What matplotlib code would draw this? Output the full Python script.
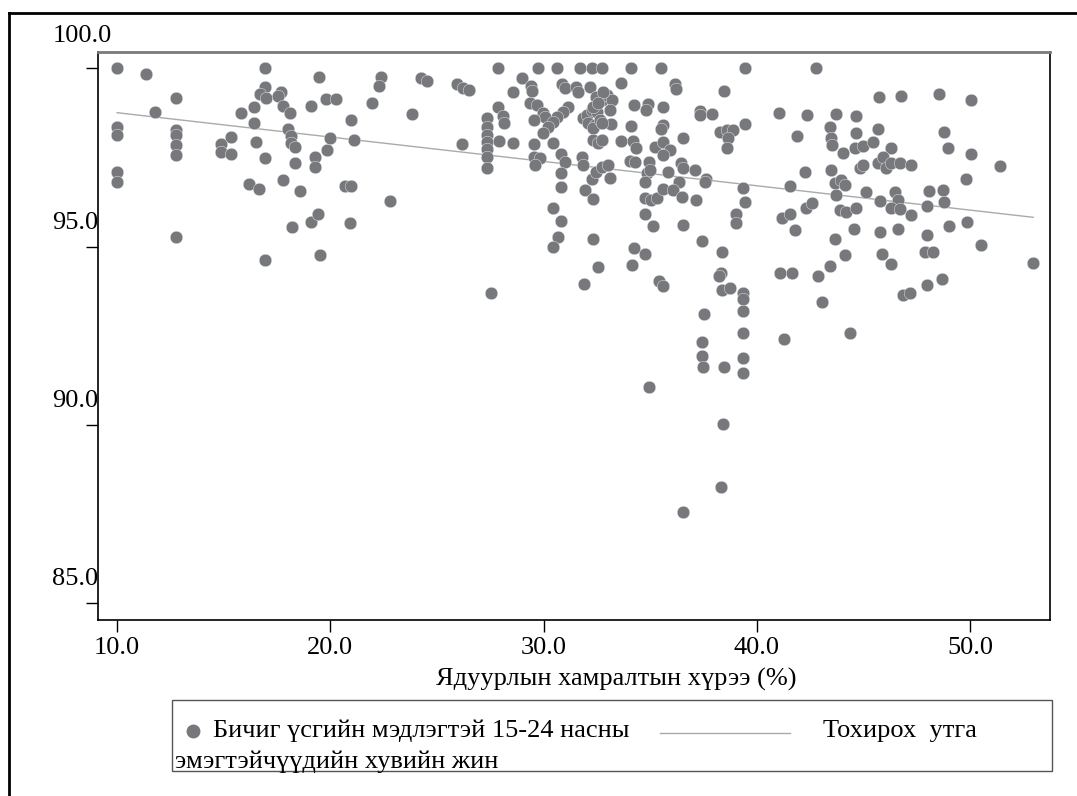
import numpy as np
import matplotlib
matplotlib.use('Agg')
import matplotlib.pyplot as plt
from matplotlib.transforms import ScaledTranslation
from matplotlib.lines import Line2D
from matplotlib.patches import Rectangle

plt.rcParams['font.family'] = ['Liberation Serif', 'DejaVu Serif']

# ядуурлын хамралтын хүрээ (x) ба бичиг үсгийн мэдлэгтэй эмэгтэйчүүдийн хувь (y)
poverty = [
    10.00, 11.37, 16.95, 19.45, 22.39, 22.28, 12.78, 16.95, 16.69, 16.97,
    17.67, 17.55, 17.78, 18.09, 16.42, 15.83, 16.42, 19.11, 19.81, 20.28,
    21.95, 20.98, 11.80, 10.00, 10.00, 10.00, 10.00, 12.78, 12.78, 12.78,
    12.78, 12.78, 14.86, 14.86, 15.33, 15.33, 16.53, 16.95, 16.20, 16.67,
    16.92, 17.78, 18.57, 18.22, 18.02, 18.14, 18.14, 18.33, 18.36, 19.30,
    19.30, 19.86, 19.97, 21.11, 20.67, 20.98, 19.11, 19.42, 20.94, 19.53,
    22.81,
    24.24, 24.52, 25.93, 26.24, 26.50, 23.84, 26.16, 27.36, 27.36, 27.36,
    27.36, 27.36, 27.36, 27.36, 27.53,
    27.87, 29.75, 30.61, 31.70, 32.25, 32.76, 29.01, 28.58, 29.41, 29.44,
    27.87, 28.11, 28.16, 27.92, 28.58, 29.36, 29.67, 29.98, 30.06, 29.55,
    30.87, 31.00, 31.50, 31.62, 32.20, 31.15, 30.92, 30.61, 30.45, 30.22,
    29.98, 30.42, 29.56, 29.56, 29.83, 29.60, 30.84, 31.00, 30.84, 30.84,
    31.78, 31.83, 32.25, 32.48, 32.72, 33.03, 33.11, 31.94, 32.33, 30.42,
    30.84, 30.69, 30.42, 32.33, 32.56, 31.89, 32.33, 32.56, 32.72, 31.86,
    32.02, 32.25, 32.49, 32.10, 32.41, 32.33, 32.64, 32.72, 32.46, 32.96,
    33.19, 32.80, 33.11, 32.33, 32.56, 33.15, 32.76, 33.61, 33.61,
    34.12, 35.53, 39.44, 36.16, 36.20, 38.46, 34.23, 34.91, 34.80, 35.61,
    37.33, 37.33, 37.92, 34.12, 35.61, 35.53, 38.27, 38.58, 38.89, 38.66,
    38.61, 39.44, 34.20, 34.33, 35.22, 35.61, 35.93, 35.61, 36.53, 34.05,
    34.28, 34.95, 36.44, 36.53, 37.09, 34.83, 34.99, 34.75, 35.84, 36.36,
    37.64, 37.59, 39.33, 39.44, 34.75, 35.06, 35.30, 35.61, 36.08, 36.47,
    37.14, 34.75, 35.11, 36.53, 39.02, 39.02, 37.45, 34.23, 34.75, 34.17,
    38.37, 38.33, 38.25, 35.42, 35.58, 38.37, 38.75, 39.33, 39.33, 39.33,
    39.33, 39.33, 39.33, 37.54, 37.41, 37.41, 37.49, 38.46, 38.40, 38.33,
    34.95, 36.55,
    41.04, 41.89, 41.58, 41.16, 41.55, 41.79, 41.08, 41.67, 41.27, 42.77,
    45.74, 46.74, 48.55, 50.06, 42.36, 43.73, 44.67, 43.43, 43.48, 43.51,
    44.67, 45.69, 44.05, 44.60, 44.99, 45.43, 46.31, 48.77, 48.98, 50.06,
    51.42, 49.83, 42.25, 43.46, 44.83, 44.99, 45.69, 45.93, 46.05, 46.31,
    46.70, 47.25, 43.66, 43.97, 44.13, 43.71, 45.10, 46.49, 46.63, 45.80,
    46.31, 46.70, 47.25, 48.08, 48.74, 48.77, 47.99, 42.33, 42.61, 43.89,
    44.20, 44.67, 44.55, 45.80, 46.63, 49.02, 49.88, 43.66, 47.99, 44.13,
    45.89, 46.31, 47.88, 48.24, 50.53, 52.96, 43.43, 42.88, 48.00, 48.70,
    46.86, 47.18, 43.08, 44.39,
]
literacy = [
    100.00, 99.83, 100.00, 99.76, 99.75, 99.50, 99.18, 99.47, 99.27, 99.16,
    99.34, 99.23, 98.95, 98.74, 98.92, 98.74, 98.47, 98.94, 99.13, 99.13,
    99.04, 98.55, 98.78, 98.36, 98.13, 97.08, 96.82, 98.27, 98.13, 97.85,
    97.57, 95.28, 97.87, 97.66, 98.07, 97.59, 97.94, 97.48, 96.76, 96.61,
    94.61, 96.87, 96.56, 95.56, 98.30, 98.10, 97.92, 97.80, 97.34, 97.52,
    97.24, 97.71, 98.05, 97.99, 96.70, 96.70, 95.70, 95.92, 95.65, 94.75,
    96.28,
    99.74, 99.66, 99.55, 99.46, 99.39, 98.73, 97.87, 98.60, 98.36, 98.13,
    97.94, 97.73, 97.52, 97.21, 93.69,
    100.00, 100.00, 100.00, 100.00, 100.00, 100.00, 99.72, 99.34, 99.50, 99.36,
    98.91, 98.66, 98.46, 97.96, 97.90, 99.02, 98.97, 98.74, 98.64, 98.55,
    99.55, 99.44, 99.48, 99.34, 99.48, 98.92, 98.78, 98.64, 98.50, 98.36,
    98.18, 97.91, 97.87, 97.52, 97.48, 97.29, 97.61, 97.38, 97.06, 96.68,
    97.52, 97.29, 96.90, 97.08, 97.24, 97.29, 96.92, 96.59, 96.34, 96.08,
    95.73, 95.28, 95.00, 95.21, 94.44, 93.94, 97.98, 97.90, 97.98, 98.60,
    98.69, 98.83, 98.78, 98.46, 98.41, 98.32, 98.55, 99.11, 99.20, 99.25,
    99.11, 99.34, 98.83, 98.92, 99.02, 98.43, 98.46, 99.58, 97.96,
    100.00, 100.00, 100.00, 99.55, 99.41, 99.36, 98.97, 98.99, 98.83, 98.91,
    98.80, 98.69, 98.71, 98.39, 98.41, 98.30, 98.21, 98.27, 98.27, 98.04,
    97.77, 98.44, 97.96, 97.76, 97.80, 97.94, 97.71, 97.57, 98.05, 97.40,
    97.36, 97.36, 97.34, 97.20, 97.15, 97.06, 97.15, 96.82, 97.08, 96.80,
    96.90, 96.82, 96.64, 96.24, 96.36, 96.31, 96.36, 96.62, 96.59, 96.40,
    96.30, 95.91, 95.59, 95.61, 95.91, 95.65, 95.17, 94.95, 94.79, 94.47,
    94.86, 94.25, 94.16, 94.02, 93.88, 93.78, 93.85, 93.69, 93.52, 93.18,
    92.57, 91.87, 91.45, 93.11, 92.31, 91.92, 91.62, 91.63, 90.03, 88.25,
    91.07, 87.55,
    98.74, 98.11, 96.71, 95.79, 95.91, 95.47, 94.25, 94.25, 92.40, 100.00,
    99.20, 99.23, 99.27, 99.11, 98.69, 98.72, 98.67, 98.36, 98.05, 97.85,
    98.18, 98.30, 97.62, 97.77, 97.83, 97.94, 97.76, 98.21, 97.76, 97.61,
    97.26, 96.89, 97.10, 97.15, 97.20, 97.29, 97.34, 97.52, 97.20, 97.34,
    97.34, 97.29, 96.78, 96.87, 96.73, 96.45, 96.54, 96.54, 96.31, 96.29,
    96.09, 96.06, 95.89, 96.56, 96.59, 96.26, 96.15, 96.08, 96.22, 96.03,
    95.98, 96.09, 95.49, 95.42, 95.49, 95.58, 95.68, 95.21, 95.33, 94.75,
    94.79, 94.51, 94.86, 94.86, 95.03, 94.53, 94.46, 94.16, 93.91, 94.08,
    93.64, 93.69, 93.45, 92.57,
]

x_ticks = [10, 20, 30, 40, 50]
y_ticks = [85, 90, 95, 100]
x_label = 'Ядуурлын хамралтын хүрээ (%)'
points_label = ['Бичиг үсгийн мэдлэгтэй 15-24 насны', 'эмэгтэйчүүдийн хувийн жин']
fit_label = 'Тохирох  утга'

dot_color = '#77787c'
fit_color = '#aaaaaa'
W, H = 1077, 796

x = np.array(poverty)
y = np.array(literacy)
print(len(x), len(y))

fig = plt.figure(figsize=(W / 100, H / 100), dpi=100)
ax = fig.add_axes([98.3 / W, 1 - 620 / H, (1050 - 98.3) / W, (620 - 52) / H])

ax.scatter(x, y, s=82, color=dot_color, edgecolors='#f2f2f2', linewidths=0.3, zorder=3)

# шугаман тохируулга
k, b = np.polyfit(x, y, 1)
print(k, b)
xx = np.array([x.min(), x.max()])
ax.plot(xx, k * xx + b, color=fit_color, lw=1, zorder=2)

ax.set_xlim(9.12, 53.75)
ax.set_ylim(84.52, 100.46)
ax.set_xticks(x_ticks, [f'{v:.1f}' for v in x_ticks])
ax.set_yticks(y_ticks, [f'{v:.1f}' for v in y_ticks])
ax.tick_params(axis='both', direction='out', length=8.6, width=1, labelsize=19, colors='black')
ax.tick_params(axis='x', pad=4)
ax.tick_params(axis='y', pad=-8.6)

for t in ax.yaxis.get_major_ticks():
    val = t.get_loc()
    dx, dy = (0.14, 0.32) if val == 100 else (0.0, 0.24)
    t.label1.set_verticalalignment('center')
    t.label1.set_transform(t.label1.get_transform() + ScaledTranslation(dx, dy, fig.dpi_scale_trans))

for side in ['left', 'bottom', 'right']:
    ax.spines[side].set_color('black')
    ax.spines[side].set_linewidth(1.2)
ax.spines['top'].set_color('#7a7a7a')
ax.spines['top'].set_linewidth(2)

ax.set_xlabel(x_label, fontsize=19)
ax.xaxis.set_label_coords((616 - 98.3) / (1050 - 98.3), -(668 - 620) / (620 - 52))

# гадна хүрээ
fig.add_artist(Line2D([8.7 / W, 1], [1 - 13 / H, 1 - 13 / H], transform=fig.transFigure, color='black', lw=2))
fig.add_artist(Line2D([8.7 / W, 8.7 / W], [0, 1 - 13 / H], transform=fig.transFigure, color='black', lw=2))

# тайлбар
fig.add_artist(Rectangle((172 / W, 1 - 771 / H), (1052 - 172) / W, 71 / H, transform=fig.transFigure,
                         fill=False, edgecolor='#555555', lw=1))
fig.add_artist(Line2D([193 / W], [1 - 731 / H], transform=fig.transFigure, marker='o', ms=9,
                      color=dot_color, lw=0))
fig.text(213 / W, 1 - 731 / H, points_label[0], fontsize=19, va='center', ha='left')
fig.text(175 / W, 1 - 762 / H, points_label[1], fontsize=19, va='center', ha='left')
fig.add_artist(Line2D([660 / W, 790 / W], [1 - 733 / H, 1 - 733 / H], transform=fig.transFigure,
                      color=fit_color, lw=1))
fig.text(823 / W, 1 - 731 / H, fit_label, fontsize=19, va='center', ha='left')

fig.savefig('out.png', dpi=100)
